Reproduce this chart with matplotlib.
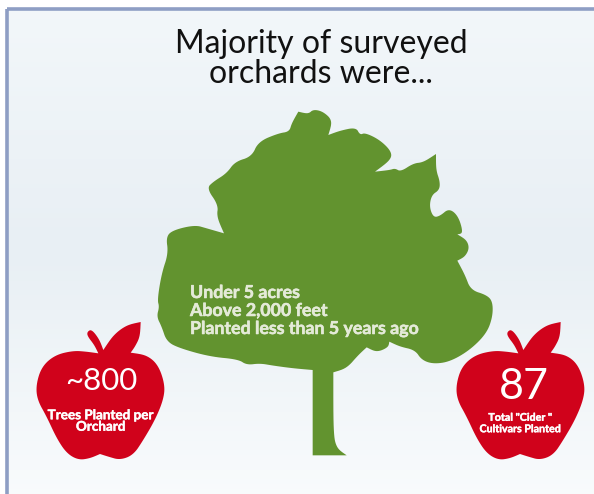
import numpy as np
import matplotlib
matplotlib.use('Agg')
import matplotlib.pyplot as plt
import matplotlib.patheffects as pe
from matplotlib.patches import Polygon, Rectangle
from matplotlib.transforms import Affine2D

plt.rcParams['font.family'] = ['Lato', 'Carlito', 'Open Sans', 'DejaVu Sans']

title_lines = 'Majority of surveyed\norchards were...'
tree_lines = ['Under 5 acres', 'Above 2,000 feet', 'Planted less than 5 years ago']
left_value = '~800'
left_label = 'Trees Planted per\nOrchard'
right_value = '87'
right_label = 'Total "Cider "\nCultivars Planted'

tree_zoom = [(490,28),(520,35),(548,62),(535,105),(570,92),(618,82),(630,105),(645,98),(690,120),
             (725,155),(722,180),(675,215),(720,210),(735,205),(752,215),(790,190),(820,187),(858,162),
             (858,210),(870,245),(868,270),(845,285),(838,320),(850,352),(870,348),(897,325),(925,348),
             (940,400),(922,403),(950,420),(958,445),(945,470),(922,482),(945,525),(962,570),(1010,585),
             (1028,605),(1028,650),(1010,700),(960,750),(900,785),(850,792),(815,780),(795,750),(750,740),
             (718,725),(715,742),(680,757),(650,742),(625,765),(590,805),(550,817),(550,1000),(560,1045),
             (590,1066),(488,1066),(488,810),(430,805),(370,797),(330,790),(290,795),(265,778),(180,770),
             (90,745),(50,725),(35,680),(20,650),(28,620),(22,600),(35,520),(55,460),(48,410),(70,390),
             (135,375),(170,385),(222,400),(200,350),(205,315),(170,265),(190,245),(230,220),(255,185),
             (305,170),(325,125),(385,100),(418,95),(425,70),(445,35),(475,42)]
tree_sharp = [(535,105),(675,215),(858,162),(922,403),(922,482),(718,725),(650,742),(550,817),
              (590,1066),(488,1066),(488,810),(222,400),(445,35)]

# outline of the left apple, 3x crop at (0,310)
apple_zoom = [(262,65),(275,58),(298,88),(310,120),(340,75),(380,45),(422,36),(420,80),(405,110),(392,128),
              (440,135),(475,165),(495,225),(490,270),(465,330),(430,390),(400,435),(360,450),(325,440),
              (300,432),(270,445),(235,450),(200,430),(170,385),(140,320),(112,270),(108,225),(125,170),
              (165,135),(220,122),(260,125),(295,130),(283,105),(262,78)]
apple_sharp = [(310,120),(422,36),(392,128),(295,130),(300,432)]


# corner cutting so the outlines are not so angular, sharp points are kept
def smooth(points, sharp, rounds=3):
    pts = [tuple(p) for p in points]
    keep = set(sharp)
    for _ in range(rounds):
        new = []
        for i, p in enumerate(pts):
            a = np.array(pts[i - 1], float)
            b = np.array(p, float)
            c = np.array(pts[(i + 1) % len(pts)], float)
            if p in keep:
                new.append(p)
            else:
                new.append(tuple(b + (a - b) * 0.25))
                new.append(tuple(b + (c - b) * 0.25))
        pts = new
    return np.array(pts)


fig = plt.figure(figsize=(5.94, 4.94), dpi=100)
ax = fig.add_axes([0, 0, 1, 1])

# background gradient inside the frame
top = np.array([0.95, 0.968, 0.98])
mid = np.array([0.91, 0.937, 0.957])
bot = np.array([0.975, 0.985, 0.99])
ys = np.linspace(0, 1, 100)[:, None]
grad = np.where(ys < 0.5, top + (mid - top) * ys * 2, mid + (bot - mid) * (ys - 0.5) * 2)
ax.imshow(grad[:, None, :], extent=[8, 594, 494, 10], aspect='auto', zorder=0)
ax.set_xlim(0, 594)
ax.set_ylim(494, 0)
ax.axis('off')

# frame, only top and left are in the crop
ax.add_patch(Rectangle((7, 9.5), 600, 500, fill=False, ec='#8e9ec4', lw=2.6, zorder=1))

tree = smooth(tree_zoom, tree_sharp) / 3 + [150, 100]
ax.add_patch(Polygon(tree, closed=True, fc='#62932f', ec='none', zorder=2))

apple = smooth(apple_zoom, apple_sharp) / 3 + [0, 310]
ax.add_patch(Polygon(apple, closed=True, fc='#d0021b', ec='none', zorder=2))
ax.add_patch(Polygon(apple, closed=True, fc='#d0021b', ec='none', zorder=3,
                     transform=Affine2D().translate(420, 0) + ax.transData))

ax.text(321, 59, title_lines, ha='center', va='center', fontsize=23, color='#111111',
        linespacing=1.0, zorder=5)

# the reference text is a bit heavier than Lato bold comes out here
heavy = [pe.withStroke(linewidth=0.4, foreground='#e4ead8')]
for y, s in zip([292.5, 310.5, 328.5], tree_lines):
    ax.text(190, y, s, ha='left', va='center', fontsize=12.8, color='#e4ead8',
            fontweight='bold', zorder=5, path_effects=heavy)

heavy_w = [pe.withStroke(linewidth=0.3, foreground='white')]
ax.text(101, 381, left_value, ha='center', va='center', fontsize=22.5, color='white', zorder=5)
ax.text(101, 421, left_label, ha='center', va='center', fontsize=9.7, color='white',
        fontweight='bold', linespacing=0.95, zorder=5, path_effects=heavy_w)
ax.text(524, 387, right_value, ha='center', va='center', fontsize=31, color='white', zorder=5)
ax.text(520, 423, right_label, ha='center', va='center', fontsize=7.7, color='white',
        fontweight='bold', linespacing=1.05, zorder=5, path_effects=heavy_w)

fig.savefig('out.png', dpi=100)
